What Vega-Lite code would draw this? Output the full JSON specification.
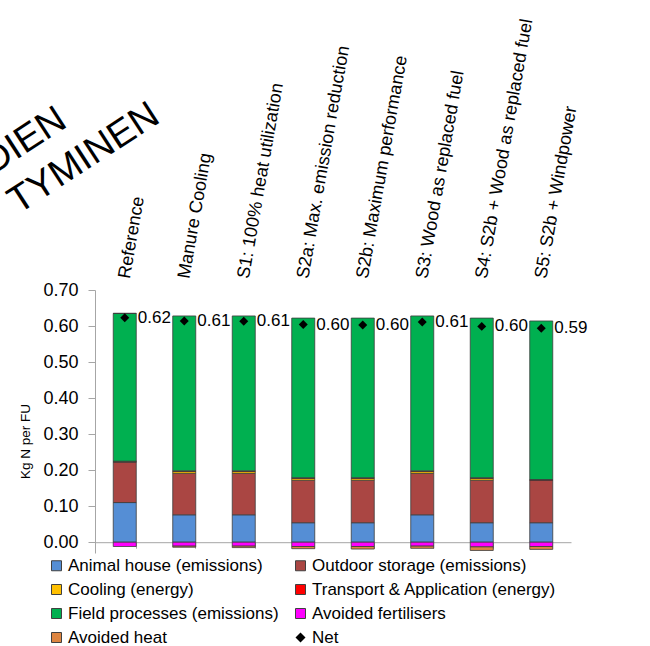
{
  "$schema": "https://vega.github.io/schema/vega-lite/v6.json",
  "width": 476,
  "height": 263,
  "autosize": {"type": "none"},
  "padding": {"left": 95, "top": 290, "right": 79, "bottom": 93},
  "background": "white",
  "title": {
    "text": ["DIEN", "TYMINEN"],
    "orient": "top",
    "anchor": "start",
    "frame": "group",
    "angle": -33,
    "align": "left",
    "baseline": "alphabetic",
    "font": "Liberation Sans",
    "fontSize": 38,
    "fontWeight": "normal",
    "color": "black",
    "lineHeight": 47,
    "offset": -256,
    "dx": -122
  },
  "config": {
    "view": {"stroke": null},
    "font": "Liberation Sans",
    "axis": {"labelFont": "Liberation Sans", "titleFont": "Liberation Sans", "labelColor": "black", "titleColor": "black", "grid": false},
    "axisY": {"labelOverlap": false, "labelBound": false},
    "legend": {"labelFont": "Liberation Sans"}
  },
  "datasets": {
    "parts": [
      {"scenario": "Reference", "component": "Animal house (emissions)", "k": 1, "value": 0.110},
      {"scenario": "Reference", "component": "Outdoor storage (emissions)", "k": 2, "value": 0.113},
      {"scenario": "Reference", "component": "Cooling (energy)", "k": 3, "value": 0.000},
      {"scenario": "Reference", "component": "Transport & Application (energy)", "k": 4, "value": 0.002},
      {"scenario": "Reference", "component": "Field processes (emissions)", "k": 5, "value": 0.410},
      {"scenario": "Reference", "component": "Avoided fertilisers", "k": 6, "value": -0.012},
      {"scenario": "Reference", "component": "Avoided heat", "k": 7, "value": 0.000},

      {"scenario": "Manure Cooling", "component": "Animal house (emissions)", "k": 1, "value": 0.076},
      {"scenario": "Manure Cooling", "component": "Outdoor storage (emissions)", "k": 2, "value": 0.115},
      {"scenario": "Manure Cooling", "component": "Cooling (energy)", "k": 3, "value": 0.005},
      {"scenario": "Manure Cooling", "component": "Transport & Application (energy)", "k": 4, "value": 0.002},
      {"scenario": "Manure Cooling", "component": "Field processes (emissions)", "k": 5, "value": 0.430},
      {"scenario": "Manure Cooling", "component": "Avoided fertilisers", "k": 6, "value": -0.011},
      {"scenario": "Manure Cooling", "component": "Avoided heat", "k": 7, "value": -0.003},

      {"scenario": "S1: 100% heat utilization", "component": "Animal house (emissions)", "k": 1, "value": 0.076},
      {"scenario": "S1: 100% heat utilization", "component": "Outdoor storage (emissions)", "k": 2, "value": 0.115},
      {"scenario": "S1: 100% heat utilization", "component": "Cooling (energy)", "k": 3, "value": 0.005},
      {"scenario": "S1: 100% heat utilization", "component": "Transport & Application (energy)", "k": 4, "value": 0.002},
      {"scenario": "S1: 100% heat utilization", "component": "Field processes (emissions)", "k": 5, "value": 0.430},
      {"scenario": "S1: 100% heat utilization", "component": "Avoided fertilisers", "k": 6, "value": -0.011},
      {"scenario": "S1: 100% heat utilization", "component": "Avoided heat", "k": 7, "value": -0.004},

      {"scenario": "S2a: Max. emission reduction", "component": "Animal house (emissions)", "k": 1, "value": 0.054},
      {"scenario": "S2a: Max. emission reduction", "component": "Outdoor storage (emissions)", "k": 2, "value": 0.118},
      {"scenario": "S2a: Max. emission reduction", "component": "Cooling (energy)", "k": 3, "value": 0.005},
      {"scenario": "S2a: Max. emission reduction", "component": "Transport & Application (energy)", "k": 4, "value": 0.002},
      {"scenario": "S2a: Max. emission reduction", "component": "Field processes (emissions)", "k": 5, "value": 0.443},
      {"scenario": "S2a: Max. emission reduction", "component": "Avoided fertilisers", "k": 6, "value": -0.012},
      {"scenario": "S2a: Max. emission reduction", "component": "Avoided heat", "k": 7, "value": -0.006},

      {"scenario": "S2b: Maximum performance", "component": "Animal house (emissions)", "k": 1, "value": 0.054},
      {"scenario": "S2b: Maximum performance", "component": "Outdoor storage (emissions)", "k": 2, "value": 0.118},
      {"scenario": "S2b: Maximum performance", "component": "Cooling (energy)", "k": 3, "value": 0.005},
      {"scenario": "S2b: Maximum performance", "component": "Transport & Application (energy)", "k": 4, "value": 0.002},
      {"scenario": "S2b: Maximum performance", "component": "Field processes (emissions)", "k": 5, "value": 0.443},
      {"scenario": "S2b: Maximum performance", "component": "Avoided fertilisers", "k": 6, "value": -0.012},
      {"scenario": "S2b: Maximum performance", "component": "Avoided heat", "k": 7, "value": -0.007},

      {"scenario": "S3: Wood as replaced fuel", "component": "Animal house (emissions)", "k": 1, "value": 0.076},
      {"scenario": "S3: Wood as replaced fuel", "component": "Outdoor storage (emissions)", "k": 2, "value": 0.115},
      {"scenario": "S3: Wood as replaced fuel", "component": "Cooling (energy)", "k": 3, "value": 0.005},
      {"scenario": "S3: Wood as replaced fuel", "component": "Transport & Application (energy)", "k": 4, "value": 0.002},
      {"scenario": "S3: Wood as replaced fuel", "component": "Field processes (emissions)", "k": 5, "value": 0.430},
      {"scenario": "S3: Wood as replaced fuel", "component": "Avoided fertilisers", "k": 6, "value": -0.011},
      {"scenario": "S3: Wood as replaced fuel", "component": "Avoided heat", "k": 7, "value": -0.006},

      {"scenario": "S4: S2b + Wood as replaced fuel", "component": "Animal house (emissions)", "k": 1, "value": 0.054},
      {"scenario": "S4: S2b + Wood as replaced fuel", "component": "Outdoor storage (emissions)", "k": 2, "value": 0.118},
      {"scenario": "S4: S2b + Wood as replaced fuel", "component": "Cooling (energy)", "k": 3, "value": 0.005},
      {"scenario": "S4: S2b + Wood as replaced fuel", "component": "Transport & Application (energy)", "k": 4, "value": 0.002},
      {"scenario": "S4: S2b + Wood as replaced fuel", "component": "Field processes (emissions)", "k": 5, "value": 0.443},
      {"scenario": "S4: S2b + Wood as replaced fuel", "component": "Avoided fertilisers", "k": 6, "value": -0.013},
      {"scenario": "S4: S2b + Wood as replaced fuel", "component": "Avoided heat", "k": 7, "value": -0.010},

      {"scenario": "S5: S2b + Windpower", "component": "Animal house (emissions)", "k": 1, "value": 0.054},
      {"scenario": "S5: S2b + Windpower", "component": "Outdoor storage (emissions)", "k": 2, "value": 0.118},
      {"scenario": "S5: S2b + Windpower", "component": "Cooling (energy)", "k": 3, "value": 0.000},
      {"scenario": "S5: S2b + Windpower", "component": "Transport & Application (energy)", "k": 4, "value": 0.002},
      {"scenario": "S5: S2b + Windpower", "component": "Field processes (emissions)", "k": 5, "value": 0.440},
      {"scenario": "S5: S2b + Windpower", "component": "Avoided fertilisers", "k": 6, "value": -0.012},
      {"scenario": "S5: S2b + Windpower", "component": "Avoided heat", "k": 7, "value": -0.008}
    ],
    "net": [
      {"scenario": "Reference", "component": "Net", "net": 0.623},
      {"scenario": "Manure Cooling", "component": "Net", "net": 0.614},
      {"scenario": "S1: 100% heat utilization", "component": "Net", "net": 0.613},
      {"scenario": "S2a: Max. emission reduction", "component": "Net", "net": 0.604},
      {"scenario": "S2b: Maximum performance", "component": "Net", "net": 0.603},
      {"scenario": "S3: Wood as replaced fuel", "component": "Net", "net": 0.611},
      {"scenario": "S4: S2b + Wood as replaced fuel", "component": "Net", "net": 0.599},
      {"scenario": "S5: S2b + Windpower", "component": "Net", "net": 0.594}
    ]
  },
  "resolve": {"axis": {"x": "independent"}},
  "layer": [
    {
      "data": {"name": "parts"},
      "mark": {"type": "bar", "stroke": "#3c3c3c", "strokeWidth": 0.8},
      "encoding": {
        "x": {
          "field": "scenario", "type": "nominal", "sort": null,
          "scale": {"paddingInner": 0.613, "paddingOuter": 0.3065},
          "axis": {"orient": "bottom", "title": null, "labels": false, "offset": -10.8, "bandPosition": 1, "tickSize": 6, "tickColor": "#a6a6a6", "domainColor": "#a6a6a6", "domainWidth": 1}
        },
        "y": {
          "field": "value", "type": "quantitative", "stack": "zero",
          "scale": {"domain": [-0.03, 0.7], "nice": false, "zero": false},
          "axis": {"title": "Kg N per FU", "titleFontSize": 13.5, "titleFontWeight": "normal", "titleX": -70, "titleY": 151, "titleBaseline": "middle", "values": [0, 0.1, 0.2, 0.3, 0.4, 0.5, 0.6, 0.7], "format": ".2f", "labelFontSize": 18, "labelPadding": 10, "labelOverlap": false, "tickSize": 7, "tickColor": "#a6a6a6", "domainColor": "#a6a6a6"}
        },
        "color": {
          "field": "component", "type": "nominal",
          "scale": {
            "domain": ["Animal house (emissions)", "Outdoor storage (emissions)", "Cooling (energy)", "Transport & Application (energy)", "Field processes (emissions)", "Avoided fertilisers", "Avoided heat", "Net"],
            "range": ["#558ED5", "#AA4643", "#FFC000", "#FF0000", "#00B050", "#FF00FF", "#DD8541", "#000000"]
          },
          "legend": {
            "title": null, "orient": "none", "direction": "horizontal", "legendX": -47, "legendY": 267, "columns": 2, "columnPadding": 13, "rowPadding": 6,
            "labelFontSize": 17, "labelOffset": 3, "labelLimit": 400, "labelColor": "black",
            "symbolType": "square", "symbolSize": 100, "symbolStrokeColor": "#404040", "symbolStrokeWidth": 1,
            "encode": {"symbols": {"update": {"shape": {"signal": "datum.value === 'Net' ? 'diamond' : 'square'"}, "strokeWidth": {"signal": "datum.value === 'Net' ? 0 : 1"}}}}
          }
        },
        "order": {"field": "k", "type": "quantitative"}
      }
    },
    {
      "data": {"name": "net"},
      "mark": {"type": "point", "shape": "diamond", "filled": true, "size": 80, "opacity": 1},
      "encoding": {
        "x": {
          "field": "scenario", "type": "nominal", "sort": null,
          "axis": {"orient": "top", "title": null, "domain": false, "ticks": false, "labelAngle": -80, "labelAlign": "left", "labelBaseline": "middle", "labelFontSize": 18, "labelPadding": 12, "labelLimit": 0, "labelOverlap": false}
        },
        "y": {
          "field": "net", "type": "quantitative",
          "axis": {"title": "Kg N per FU", "titleFontSize": 13.5, "titleFontWeight": "normal", "titleX": -70, "titleY": 151, "titleBaseline": "middle", "values": [0, 0.1, 0.2, 0.3, 0.4, 0.5, 0.6, 0.7], "format": ".2f", "labelFontSize": 18, "labelPadding": 10, "labelOverlap": false, "tickSize": 7, "tickColor": "#a6a6a6", "domainColor": "#a6a6a6"}
        },
        "color": {"field": "component", "type": "nominal"}
      }
    },
    {
      "data": {"name": "net"},
      "mark": {"type": "text", "align": "left", "baseline": "middle", "dx": 13, "fontSize": 17, "color": "black"},
      "encoding": {
        "x": {"field": "scenario", "type": "nominal", "sort": null, "axis": null},
        "y": {
          "field": "net", "type": "quantitative",
          "axis": {"title": "Kg N per FU", "titleFontSize": 13.5, "titleFontWeight": "normal", "titleX": -70, "titleY": 151, "titleBaseline": "middle", "values": [0, 0.1, 0.2, 0.3, 0.4, 0.5, 0.6, 0.7], "format": ".2f", "labelFontSize": 18, "labelPadding": 10, "labelOverlap": false, "tickSize": 7, "tickColor": "#a6a6a6", "domainColor": "#a6a6a6"}
        },
        "text": {"field": "net", "type": "quantitative", "format": ".2f"}
      }
    }
  ]
}
